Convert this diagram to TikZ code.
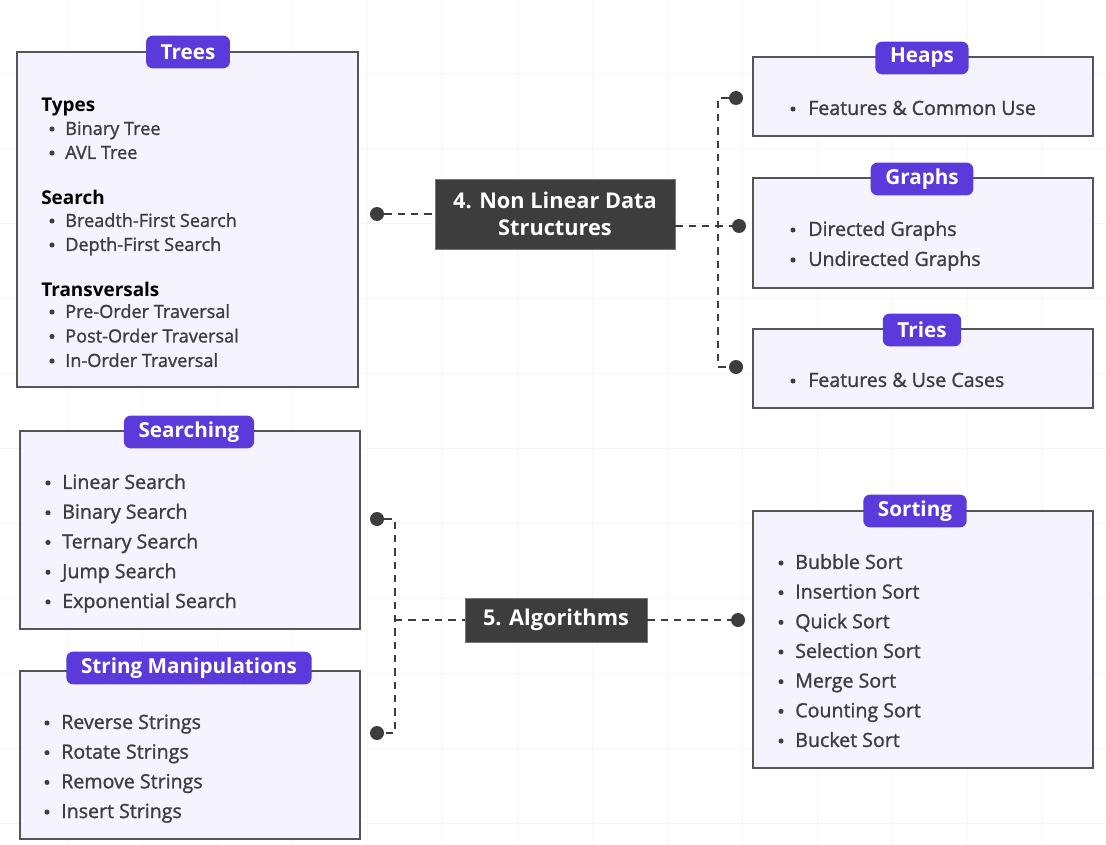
\documentclass[tikz,border=0pt]{standalone}
\usepackage{fontspec}
\setmainfont{Open Sans}
\newfontfamily\itemfont{Open Sans}[FakeBold=1.3]
\usetikzlibrary{positioning}

\definecolor{boxfill}{HTML}{F5F4FE}
\definecolor{boxline}{HTML}{555555}
\definecolor{badgefill}{HTML}{5B3ADB}
\definecolor{darkbox}{HTML}{3D3D3D}
\definecolor{itemtext}{HTML}{3D3D42}
\definecolor{gridline}{HTML}{F7F7FB}

\tikzset{
  panel/.style 2 args={draw=boxline, fill=boxfill, line width=1.5pt, anchor=north west,
    inner sep=0pt, minimum width=#1*0.75pt, minimum height=#2*0.75pt},
  badge/.style={fill=badgefill, rounded corners=5pt, text=white, inner xsep=11pt,
    minimum height=24.5pt, font=\fontsize{15.5}{18}\selectfont\bfseries},
  hub/.style={fill=darkbox, draw=darkbox!70!white, line width=0.6pt, text=white, align=center,
    inner sep=0pt, font=\fontsize{16.3}{20.5}\selectfont\bfseries},
  head/.style={anchor=west, inner sep=0pt, yshift=-1.2pt, text=black,
    font=\fontsize{14.2}{17}\selectfont\bfseries},
  item/.style={anchor=west, inner sep=0pt, yshift=-1.2pt, text=itemtext, text height=9pt,
    text depth=2.5pt, font=\fontsize{14.7}{17}\itemfont},
  smallitem/.style={item, font=\fontsize{13.6}{16}\itemfont},
  bullet/.style={circle, fill=itemtext, inner sep=0pt, minimum size=3.8pt},
  dot/.style={circle, fill=darkbox, inner sep=0pt, minimum size=10.5pt},
  link/.style={draw=darkbox, line width=2.2pt, dash pattern=on 5.5pt off 4.5pt}
}

\begin{document}
\begin{tikzpicture}[x=0.75pt, y=-0.75pt]
  \useasboundingbox (0,0) rectangle (1106,845);
  \fill[white] (0,0) rectangle (1106,845);

  % faint grid
  \foreach \gx in {67,142,...,1100}
    \draw[gridline, line width=0.7pt] (\gx,0) -- (\gx,845);
  \foreach \gy in {73,148,...,845}
    \draw[gridline, line width=0.7pt] (0,\gy) -- (1106,\gy);

  % panels
  \node[panel={341}{335}] (trees) at (16,51) {};
  \node[panel={340}{79}] (heaps) at (752,56) {};
  \node[panel={340}{110}] (graphs) at (752,177) {};
  \node[panel={340}{79}] (tries) at (752,328) {};
  \node[panel={340}{198}] (searching) at (19,430) {};
  \node[panel={340}{168}] (strings) at (19,670) {};
  \node[panel={340}{257}] (sorting) at (752,510) {};

  % panel titles
  \node[badge] (treesTitle) at (188,52) {Trees};
  \node[badge] (heapsTitle) at (922,58) {Heaps};
  \node[badge] (graphsTitle) at (922,179) {Graphs};
  \node[badge] (triesTitle) at (922,330) {Tries};
  \node[badge] (searchingTitle) at (189,432) {Searching};
  \node[badge] (stringsTitle) at (189,668) {String Manipulations};
  \node[badge] (sortingTitle) at (915,511) {Sorting};

  % hubs
  \node[hub, minimum width=180pt, minimum height=52.5pt] (nlds) at (555,214)
    {4. Non Linear Data\\Structures};
  \node[hub, minimum width=136.5pt, minimum height=33pt] (algo) at (556,620) {5. Algorithms};

  % trees contents
  \node[head] (typesHead) at (41,105) {Types};
  \node[head] (searchHead) at (41,196) {Search};
  \node[head] (transHead) at (41,288) {Transversals};
  \foreach \txt [count=\i] in {Binary Tree, AVL Tree} {
    \node[bullet] (typeBul\i) at (52,{129+24*(\i-1)}) {};
    \node[smallitem] (typeItem\i) at (65,{129+24*(\i-1)}) {\txt};
  }
  \foreach \txt [count=\i] in {Breadth-First Search, Depth-First Search} {
    \node[bullet] (searchBul\i) at (52,{221+24*(\i-1)}) {};
    \node[smallitem] (searchItem\i) at (65,{221+24*(\i-1)}) {\txt};
  }
  \foreach \txt [count=\i] in {Pre-Order Traversal, Post-Order Traversal, In-Order Traversal} {
    \node[bullet] (transBul\i) at (52,{312+24.5*(\i-1)}) {};
    \node[smallitem] (transItem\i) at (65,{312+24.5*(\i-1)}) {\txt};
  }

  % right side contents
  \node[bullet] (heapsBul1) at (793,109) {};
  \node[item] (heapsItem1) at (808,109) {Features \& Common Use};
  \foreach \txt [count=\i] in {Directed Graphs, Undirected Graphs} {
    \node[bullet] (graphsBul\i) at (793,{230+30*(\i-1)}) {};
    \node[item] (graphsItem\i) at (808,{230+30*(\i-1)}) {\txt};
  }
  \node[bullet] (triesBul1) at (793,381) {};
  \node[item] (triesItem1) at (808,381) {Features \& Use Cases};

  % algorithm contents
  \foreach \txt [count=\i] in {Linear Search, Binary Search, Ternary Search, Jump Search, Exponential Search} {
    \node[bullet] (seekBul\i) at (48,{483+29.75*(\i-1)}) {};
    \node[item] (seekItem\i) at (62,{483+29.75*(\i-1)}) {\txt};
  }
  \foreach \txt [count=\i] in {Reverse Strings, Rotate Strings, Remove Strings, Insert Strings} {
    \node[bullet] (strBul\i) at (47,{723+29.7*(\i-1)}) {};
    \node[item] (strItem\i) at (61,{723+29.7*(\i-1)}) {\txt};
  }
  \foreach \txt [count=\i] in {Bubble Sort, Insertion Sort, Quick Sort, Selection Sort, Merge Sort, Counting Sort, Bucket Sort} {
    \node[bullet] (sortBul\i) at (781,{563+29.67*(\i-1)}) {};
    \node[item] (sortItem\i) at (795,{563+29.67*(\i-1)}) {\txt};
  }

  % connector ends
  \node[dot] (dotTrees) at (377,214) {};
  \node[dot] (dotHeaps) at (736,98) {};
  \node[dot] (dotGraphs) at (739,226) {};
  \node[dot] (dotTries) at (736,367) {};
  \node[dot] (dotSearching) at (377,519) {};
  \node[dot] (dotStrings) at (377,733) {};
  \node[dot] (dotSorting) at (738,620) {};
  \coordinate (nldsJoin) at (718,226);
  \coordinate (algoJoin) at (395,620);

  % connectors
  \draw[link] (dotTrees) -- (nlds);
  \draw[link] (nlds.east |- nldsJoin) -- (dotGraphs);
  \draw[link] (dotHeaps) -| (nldsJoin) |- (dotTries);
  \draw[link] (dotSearching) -| (algoJoin) |- (dotStrings);
  \draw[link] (algoJoin) -- (algo);
  \draw[link] (algo) -- (dotSorting);
\end{tikzpicture}
\end{document}
